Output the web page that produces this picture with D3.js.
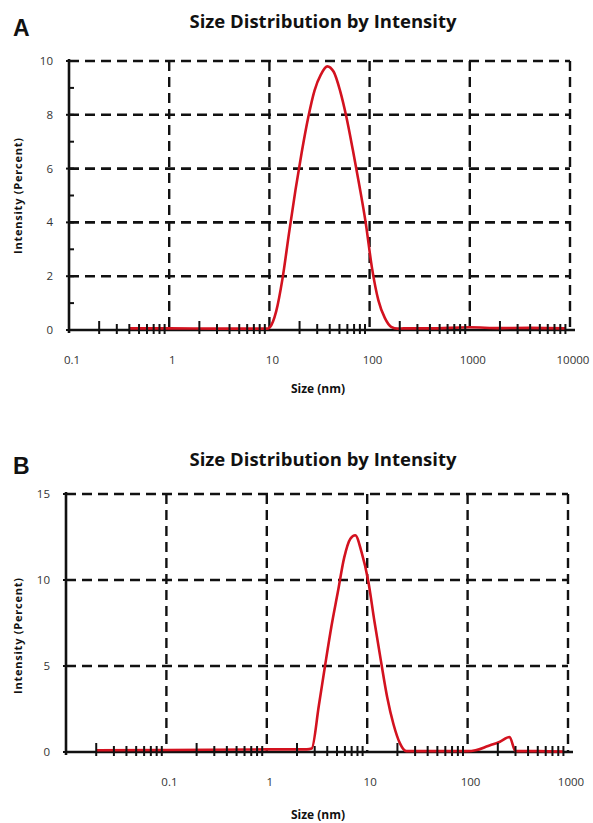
<!DOCTYPE html>
<html>
<head>
<meta charset="utf-8">
<script src="https://cdn.jsdelivr.net/npm/d3@7"></script>
<style>
  body { margin: 0; background: #fff; }
  svg { display: block; }
  .tick-label { font-family: "Open Sans", sans-serif; font-size: 11.5px; fill: #333; }
  .title { font-family: "Open Sans", sans-serif; font-weight: bold; font-size: 18.5px; fill: #111; }
  .panel-letter { font-family: "Liberation Sans", sans-serif; font-weight: bold; font-size: 23px; fill: #111; }
  .axis-title { font-family: "Open Sans", sans-serif; font-weight: bold; font-size: 11px; fill: #111; }
</style>
</head>
<body>
<div id="chart"></div>
<script>
// panel A data
var sizesA = [0.4, 1, 3, 6, 9.5, 10.1, 11.7, 13.5, 15.7, 18.2, 21, 24.4, 28.2, 32.7, 37.8, 43.8, 50.7, 58.8, 68, 78.8, 91.3, 105.7, 122.4, 141.8, 164.2, 190.1, 220, 400, 1000, 2000, 4000, 9000];
var intensityA = [0.06, 0.06, 0.05, 0.05, 0.05, 0.1, 0.7, 1.9, 3.6, 5.2, 6.6, 7.9, 8.9, 9.5, 9.8, 9.6, 8.9, 7.9, 6.7, 5.4, 4.0, 2.3, 1.1, 0.45, 0.12, 0.05, 0.06, 0.06, 0.1, 0.07, 0.08, 0.06];
var yTicksA = [0, 2, 4, 6, 8, 10];
var yMinorA = [1, 3, 5, 7, 9];
var decadesA = [0.1, 1, 10, 100, 1000, 10000];
var xLabelsA = ["0.1", "1", "10", "100", "1000", "10000"];

// panel B data
var sizesB = [0.02, 0.1, 1, 2.5, 2.8, 3.3, 3.8, 4.4, 5.1, 5.9, 6.8, 7.6, 8.8, 10.2, 11.8, 13.7, 15.8, 18.3, 21.2, 24.5, 50, 100, 120, 160, 210, 262, 300, 500, 900];
var intensityB = [0.1, 0.12, 0.15, 0.15, 0.2, 2.7, 5.0, 7.3, 9.3, 11.3, 12.4, 12.6, 11.6, 10.0, 7.6, 5.3, 3.2, 1.6, 0.5, 0.05, 0.05, 0.05, 0.1, 0.35, 0.6, 0.87, 0.05, 0.05, 0.02];
var yTicksB = [0, 5, 10, 15];
var yMinorB = [];
var decadesB = [0.01, 0.1, 1, 10, 100, 1000];
var xLabelsB = ["", "0.1", "1", "10", "100", "1000"];

var svg = d3.select("#chart")
  .append("svg")
  .attr("width", 593)
  .attr("height", 823);

function drawPanel(p) {
  var g = svg.append("g");
  var x = d3.scaleLog().domain([p.decades[0], p.decades[p.decades.length - 1]]).range(p.xRange);
  var y = d3.scaleLinear().domain([0, p.yTicks[p.yTicks.length - 1]]).range(p.yRange);

  var y0 = y(0), yTop = y.range()[1];
  var xL = x.range()[0], xR = x.range()[1];

  // dashed grid
  g.selectAll("line.hgrid")
    .data(p.yTicks.slice(1))
    .enter().append("line")
    .attr("x1", xL).attr("x2", xR)
    .attr("y1", d => y(d)).attr("y2", d => y(d))
    .attr("stroke", "#111").attr("stroke-width", 2.6)
    .attr("stroke-dasharray", "10,6");
  g.selectAll("line.vgrid")
    .data(p.decades.slice(1))
    .enter().append("line")
    .attr("x1", d => x(d)).attr("x2", d => x(d))
    .attr("y1", yTop).attr("y2", y0)
    .attr("stroke", "#111").attr("stroke-width", 2.4)
    .attr("stroke-dasharray", "10,6");

  // axis lines
  g.append("line")
    .attr("x1", xL).attr("x2", xR + 5)
    .attr("y1", y0).attr("y2", y0)
    .attr("stroke", "#111").attr("stroke-width", 2.6);
  g.append("line")
    .attr("x1", xL).attr("x2", xL)
    .attr("y1", yTop - 2).attr("y2", y0 + 3)
    .attr("stroke", "#111").attr("stroke-width", 2.6);

  // curve
  var line = d3.line()
    .x(d => x(d[0]))
    .y(d => y(d[1]))
    .curve(d3.curveMonotoneX);
  g.append("path")
    .datum(d3.zip(p.sizes, p.values))
    .attr("d", line)
    .attr("fill", "none")
    .attr("stroke", "#d3121f")
    .attr("stroke-width", 2.6);

  // minor x ticks (2..9 in each decade)
  var minor = [];
  p.decades.slice(0, -1).forEach(function(d) {
    for (var k = 2; k <= 9; k++) minor.push(d * k);
  });
  g.selectAll("line.xminor")
    .data(minor)
    .enter().append("line")
    .attr("x1", d => x(d)).attr("x2", d => x(d))
    .attr("y1", (d, i) => y0 - (i % 8 === 0 ? 9 : 6)).attr("y2", y0 + 4)
    .attr("stroke", "#111").attr("stroke-width", 2);

  // y ticks
  g.selectAll("line.yminor")
    .data(p.yMinor)
    .enter().append("line")
    .attr("x1", xL).attr("x2", xL + 5)
    .attr("y1", d => y(d)).attr("y2", d => y(d))
    .attr("stroke", "#111").attr("stroke-width", 2);
  g.selectAll("line.ymajor")
    .data(p.yTicks)
    .enter().append("line")
    .attr("x1", xL - 3).attr("x2", xL + 5)
    .attr("y1", d => y(d)).attr("y2", d => y(d))
    .attr("stroke", "#111").attr("stroke-width", 2);

  // tick labels
  g.selectAll("text.ylab")
    .data(p.yTicks)
    .enter().append("text")
    .attr("class", "tick-label")
    .attr("x", xL - 16)
    .attr("y", d => y(d) + 4)
    .attr("text-anchor", "end")
    .text(d => d);
  g.selectAll("text.xlab")
    .data(p.decades)
    .enter().append("text")
    .attr("class", "tick-label")
    .attr("x", d => x(d) + 3)
    .attr("y", y0 + 34)
    .attr("text-anchor", "middle")
    .text((d, i) => p.xLabels[i]);

  // titles
  g.append("text")
    .attr("class", "panel-letter")
    .attr("x", 13).attr("y", p.top + 8)
    .text(p.letter);
  g.append("text")
    .attr("class", "title")
    .attr("x", 323).attr("y", p.top)
    .attr("text-anchor", "middle")
    .text("Size Distribution by Intensity");
  g.append("text")
    .attr("class", "axis-title")
    .attr("transform", `translate(22, ${p.yTitleY}) rotate(-90)`)
    .attr("text-anchor", "middle")
    .attr("textLength", 116)
    .text("Intensity  (Percent)");
  g.append("text")
    .attr("class", "axis-title")
    .attr("x", 318).attr("y", y0 + p.xTitleDy)
    .attr("text-anchor", "middle")
    .style("font-size", "12px")
    .text("Size (nm)");
}

drawPanel({
  letter: "A", top: 28,
  sizes: sizesA, values: intensityA,
  yTicks: yTicksA, yMinor: yMinorA,
  decades: decadesA, xLabels: xLabelsA,
  xRange: [69, 570], yRange: [330, 61],
  yTitleY: 196, xTitleDy: 63
});
drawPanel({
  letter: "B", top: 466,
  sizes: sizesB, values: intensityB,
  yTicks: yTicksB, yMinor: yMinorB,
  decades: decadesB, xLabels: xLabelsB,
  xRange: [66, 568], yRange: [752, 494],
  yTitleY: 636, xTitleDy: 67
});
</script>
</body>
</html>
